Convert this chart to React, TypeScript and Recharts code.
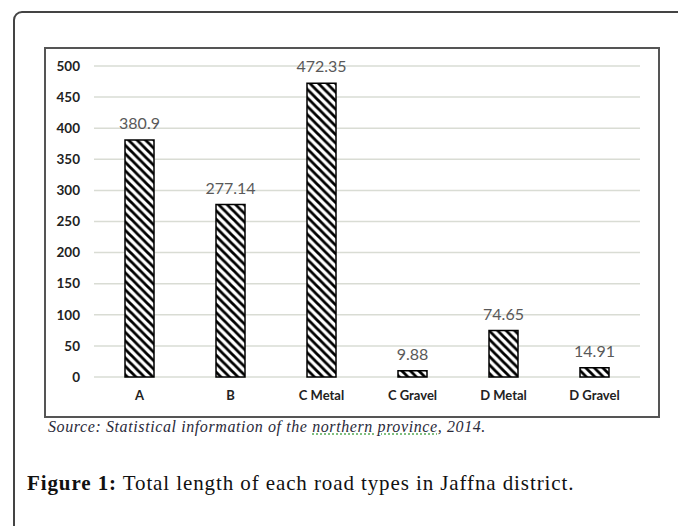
import { BarChart, Bar, XAxis, YAxis, CartesianGrid, LabelList } from 'recharts';

const roadTypes = ['A', 'B', 'C Metal', 'C Gravel', 'D Metal', 'D Gravel'];
const lengths = [380.9, 277.14, 472.35, 9.88, 74.65, 14.91];
const yTicks = [0, 50, 100, 150, 200, 250, 300, 350, 400, 450, 500];

const data = roadTypes.map((name, i) => ({ name, length: lengths[i] }));

export default function App() {
  return (
    <div style={{ position: 'fixed', left: 0, top: 0, width: 678, height: 526, background: '#fff', overflow: 'hidden' }}>
      {/* outer rounded frame, running off the right and bottom edges */}
      <div
        style={{
          position: 'absolute',
          left: 13,
          top: 11,
          width: 700,
          height: 560,
          border: '2px solid #444',
          borderRadius: 9,
        }}
      />
      {/* chart frame */}
      <div
        style={{
          position: 'absolute',
          left: 44,
          top: 47,
          width: 612,
          height: 367,
          border: '2px solid #555',
        }}
      >
        <BarChart
          width={612}
          height={367}
          data={data}
          margin={{ top: 17, right: 18, left: 0, bottom: 9 }}
          style={{ fontFamily: 'Lato, "Noto Sans", sans-serif' }}
        >
          <defs>
            <pattern id="hatch" width="8.5" height="8.5" patternUnits="userSpaceOnUse">
              <rect width="8.5" height="8.5" fill="#fff" />
              <path d="M0,0 L8.5,8.5 M-2,6.5 L2,10.5 M6.5,-2 L10.5,2" stroke="#000" strokeWidth="2.8" />
            </pattern>
          </defs>
          <CartesianGrid vertical={false} stroke="#d9dcd4" strokeWidth={1.5} />
          <XAxis
            dataKey="name"
            axisLine={false}
            tickLine={false}
            tickSize={0}
            tickMargin={14}
            height={30}
            tick={{ fill: '#222', fontSize: 13, fontWeight: 700 }}
          />
          <YAxis
            domain={[0, 500]}
            ticks={yTicks}
            interval={0}
            axisLine={false}
            tickLine={false}
            tickSize={0}
            tickMargin={14}
            width={48}
            tick={{ fill: '#222', fontSize: 13.5, fontWeight: 700 }}
          />
          <Bar dataKey="length" barSize={29} fill="url(#hatch)" stroke="#000" strokeWidth={1.5} isAnimationActive={false}>
            <LabelList dataKey="length" position="top" offset={11} fill="#595959" fontSize={16} />
          </Bar>
        </BarChart>
      </div>
      <div
        style={{
          position: 'absolute',
          left: 48,
          top: 418,
          fontFamily: '"Liberation Serif", serif',
          fontStyle: 'italic',
          fontSize: 16,
          letterSpacing: 0.6,
          color: '#2a2a3a',
          whiteSpace: 'nowrap',
        }}
      >
        Source: Statistical information of the{' '}
        <span style={{ textDecoration: 'underline dotted #5a5', textUnderlineOffset: 2 }}>northern province</span>, 2014.
      </div>
      <div
        style={{
          position: 'absolute',
          left: 27,
          top: 471,
          fontFamily: '"Liberation Serif", serif',
          fontSize: 21,
          letterSpacing: 0.9,
          color: '#111',
          whiteSpace: 'nowrap',
        }}
      >
        <b>Figure 1:</b> Total length of each road types in Jaffna district.
      </div>
    </div>
  );
}
